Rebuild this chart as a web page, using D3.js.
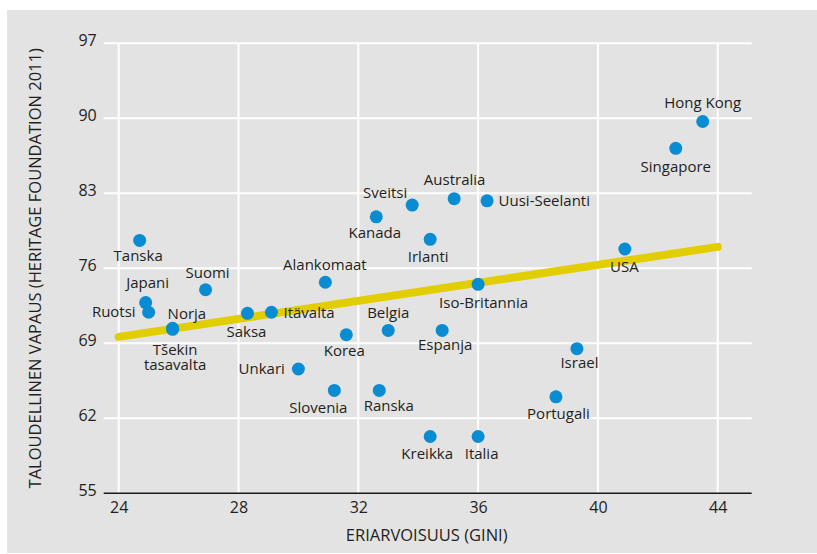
<!DOCTYPE html>
<html>
<head>
<meta charset="utf-8">
<script src="https://cdn.jsdelivr.net/npm/d3@7"></script>
<style>
  body { margin: 0; background: #fff; }
  text { font-family: "Open Sans", sans-serif; fill: #231f20; }
</style>
</head>
<body>
<div id="svg-container"></div>
<script>
// Countries, inequality (Gini) and economic freedom (Heritage Foundation 2011)
const countries = ["Hong Kong", "Singapore", "USA", "Uusi-Seelanti", "Australia", "Sveitsi",
                   "Kanada", "Irlanti", "Alankomaat", "Iso-Britannia", "Belgia", "Espanja",
                   "Korea", "Slovenia", "Ranska", "Kreikka", "Italia", "Israel", "Portugali",
                   "Unkari", "Tanska", "Suomi", "Japani", "Ruotsi", "Norja", "Tšekin tasavalta",
                   "Saksa", "Itävalta"];
const gini = [43.5, 42.6, 40.9, 36.3, 35.2, 33.8,
              32.6, 34.4, 30.9, 36.0, 33.0, 34.8,
              31.6, 31.2, 32.7, 34.4, 36.0, 39.3, 38.6,
              30.0, 24.7, 26.9, 24.9, 25.0, 25.8, 25.8,
              28.3, 29.1];
const freedom = [89.7, 87.2, 77.8, 82.3, 82.5, 81.9,
                 80.8, 78.7, 74.7, 74.5, 70.2, 70.2,
                 69.8, 64.6, 64.6, 60.3, 60.3, 68.5, 64.0,
                 66.6, 78.6, 74.0, 72.8, 71.9, 70.4, 70.3,
                 71.8, 71.9];

// Trend line end points
const trendGini = [24, 44];
const trendFreedom = [69.6, 78.0];

// Axis ticks
const xTicks = [24, 28, 32, 36, 40, 44];
const yTicks = [55, 62, 69, 76, 83, 90, 97];

const xTitle = "ERIARVOISUUS (GINI)";
const yTitle = "TALOUDELLINEN VAPAUS (HERITAGE FOUNDATION 2011)";

// Label placement next to each dot: [anchor, dx, dy]
const labelPos = {
    "Hong Kong": ["middle", 0, -13.5],
    "Singapore": ["middle", 0, 23.5],
    "USA": ["middle", -0.5, 23],
    "Uusi-Seelanti": ["start", 11.5, 5],
    "Australia": ["middle", 0.5, -14],
    "Sveitsi": ["end", -5, -7.5],
    "Kanada": ["middle", -1.5, 21.5],
    "Irlanti": ["middle", -2, 22.5],
    "Alankomaat": ["middle", -0.5, -12.5],
    "Iso-Britannia": ["middle", 5.5, 23.5],
    "Belgia": ["middle", 0, -12.5],
    "Espanja": ["middle", 3, 20],
    "Korea": ["middle", -2, 21.5],
    "Slovenia": ["middle", -16, 23],
    "Ranska": ["middle", 9.5, 21],
    "Kreikka": ["middle", -3, 22.5],
    "Italia": ["middle", 3.5, 22.5],
    "Israel": ["middle", 2.5, 19.5],
    "Portugali": ["middle", 2.5, 22.5],
    "Unkari": ["end", -13.5, 5],
    "Tanska": ["middle", -1.5, 21],
    "Suomi": ["middle", 2, -11.5],
    "Japani": ["middle", 2, -14.5],
    "Ruotsi": ["end", -13, 5],
    "Norja": ["start", -5, -9],
    "Tšekin tasavalta": ["middle", 2.5, 26],
    "Saksa": ["middle", -1, 23.5],
    "Itävalta": ["start", 12, 6]
};

const width = 817,
      height = 554,
      lineStep = 15;

// Scales
const x = d3.scaleLinear().domain([24, 44]).range([118.7, 717.7]);
const y = d3.scaleLinear().domain([55, 97]).range([493.3, 43.3]);

const plotLeft = x(24) - 15,
      plotRight = x(44) + 34;

const svg = d3.select("#svg-container").append("svg")
        .attr("width", width)
        .attr("height", height);

// Grey panel
svg.append("rect")
    .attr("x", 7).attr("y", 10)
    .attr("width", width - 7).attr("height", 543)
    .attr("fill", "#e3e3e3");

// Grid lines
svg.append("g")
    .attr("stroke", "#fff")
    .attr("stroke-width", 2)
    .call(function(g) {
        g.selectAll("line.v")
            .data(xTicks)
            .join("line")
            .attr("class", "v")
            .attr("x1", d => x(d)).attr("x2", d => x(d))
            .attr("y1", y(97)).attr("y2", y(55));
        g.selectAll("line.h")
            .data(yTicks.filter(d => d > 55))
            .join("line")
            .attr("class", "h")
            .attr("x1", plotLeft).attr("x2", plotRight)
            .attr("y1", d => y(d)).attr("y2", d => y(d));
    });

// Y axis labels
const yAxis = svg.append("g")
    .attr("transform", `translate(${plotLeft},0)`)
    .call(d3.axisLeft(y).tickValues(yTicks).tickSize(0).tickPadding(7));
yAxis.select(".domain").remove();
yAxis.selectAll("text")
    .attr("font-size", 16)
    .attr("font-family", null)
    .attr("dy", "0.16em");

// X axis labels
const xAxis = svg.append("g")
    .attr("transform", `translate(0,${y(55)})`)
    .call(d3.axisBottom(x).tickValues(xTicks).tickSize(0).tickPadding(8.5));
xAxis.select(".domain").remove();
xAxis.selectAll("text")
    .attr("font-size", 16)
    .attr("font-family", null);

// Bottom axis line
svg.append("line")
    .attr("x1", plotLeft).attr("x2", plotRight)
    .attr("y1", y(55)).attr("y2", y(55))
    .attr("stroke", "#1a1a1a")
    .attr("stroke-width", 1.5);

// Axis titles
svg.append("text")
    .attr("x", (plotLeft + plotRight) / 2 - 1)
    .attr("y", 541)
    .attr("text-anchor", "middle")
    .attr("font-size", 16.5)
    .text(xTitle);

svg.append("text")
    .attr("transform", `translate(41,${(y(55) + y(97)) / 2}) rotate(-90)`)
    .attr("text-anchor", "middle")
    .attr("font-size", 16.5)
    .text(yTitle);

// Trend line
svg.append("line")
    .attr("x1", x(trendGini[0])).attr("y1", y(trendFreedom[0]))
    .attr("x2", x(trendGini[1])).attr("y2", y(trendFreedom[1]))
    .attr("stroke", "#e2cd00")
    .attr("stroke-width", 8)
    .attr("stroke-linecap", "round");

const points = countries.map(function(name, i) {
    return { name: name, gini: gini[i], freedom: freedom[i] };
});

// Dots
svg.append("g")
    .attr("fill", "#0a8cd2")
    .selectAll("circle")
    .data(points)
    .join("circle")
    .attr("cx", d => x(d.gini))
    .attr("cy", d => y(d.freedom))
    .attr("r", 6.5);

// Labels: one text per line, the Czech name wraps in two
const labelLines = [];
points.forEach(function(d) {
    const words = d.name === "Tšekin tasavalta" ? d.name.split(" ") : [d.name];
    words.forEach(function(w, i) {
        labelLines.push({ text: w, d: d, line: i });
    });
});

svg.append("g")
    .attr("font-size", 15)
    .selectAll("text")
    .data(labelLines)
    .join("text")
    .attr("text-anchor", l => labelPos[l.d.name][0])
    .attr("x", l => x(l.d.gini) + labelPos[l.d.name][1])
    .attr("y", l => y(l.d.freedom) + labelPos[l.d.name][2] + l.line * lineStep)
    .text(l => l.text);
</script>
</body>
</html>
